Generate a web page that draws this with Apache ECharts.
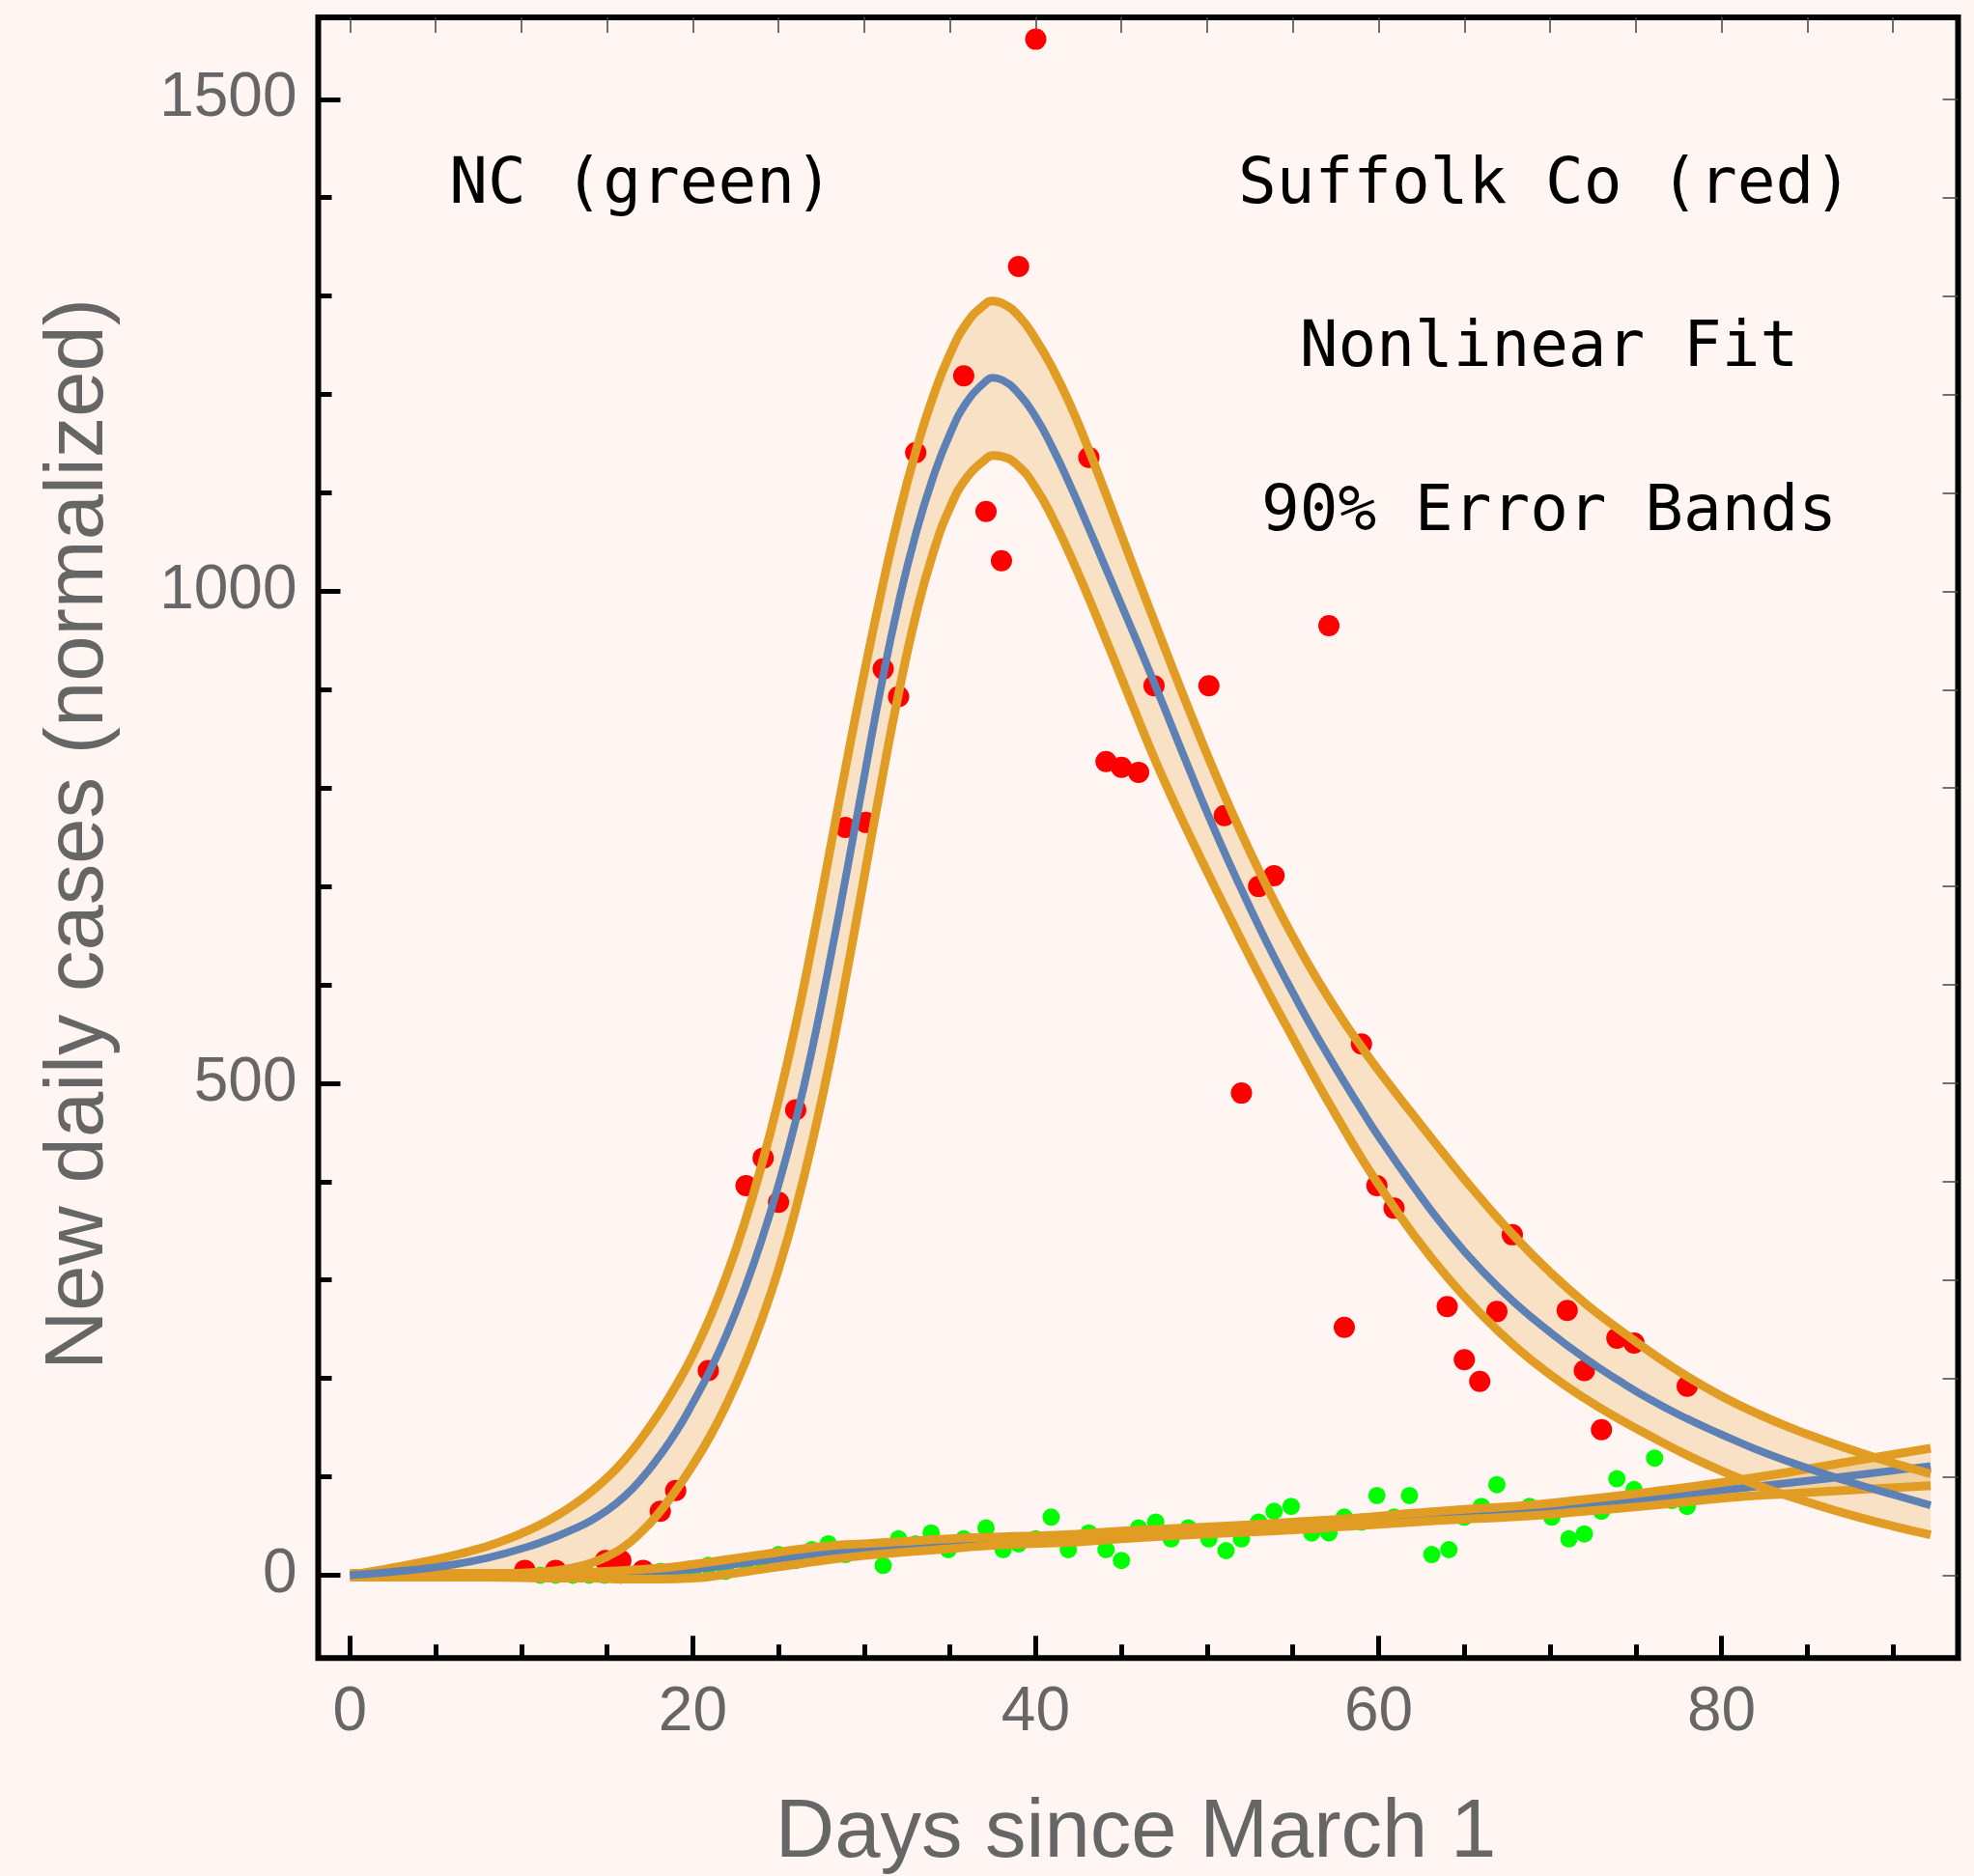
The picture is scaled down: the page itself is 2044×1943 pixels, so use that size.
<!DOCTYPE html>
<html>
<head>
<meta charset="utf-8">
<script src="https://cdn.jsdelivr.net/npm/echarts@6/dist/echarts.min.js"></script>
<style>
html,body{margin:0;padding:0;background:#FFF5F2;}
#chart{width:2044px;height:1943px;}
</style>
</head>
<body>
<div id="chart"></div>
<script>
// ---------------- data ----------------
// Suffolk Co (red) observed points
const redX = [10.2, 12.0, 14.9, 15.8, 17.1, 18.1, 19.0, 20.9, 23.1, 24.1, 25.0, 26.0, 28.9, 30.1, 31.1, 32.0, 33.0, 35.8, 37.1, 38.0, 39.0, 40.0, 43.1, 44.1, 45.0, 46.0, 46.9, 50.1, 51.0, 52.0, 53.0, 53.9, 57.1, 58.0, 59.0, 59.9, 60.9, 64.0, 65.0, 65.9, 66.9, 67.8, 71.0, 72.0, 73.0, 73.9, 74.9, 78.0];
const redY = [5, 5, 15, 15, 5, 65, 86, 208, 396, 424, 379, 473, 760, 765, 921, 893, 1141, 1219, 1081, 1031, 1330, 1561, 1136, 827, 821, 816, 904, 904, 772, 490, 700, 711, 965, 252, 540, 396, 373, 273, 219, 197, 268, 346, 269, 208, 148, 241, 236, 192];

// NC (green) observed points
const greenX = [11.1, 12.0, 13.0, 13.95, 14.85, 15.8, 17.0, 18.1, 19.0, 20.0, 20.9, 21.9, 23.1, 24.1, 25.0, 26.0, 26.95, 27.9, 28.9, 30.1, 31.1, 32.0, 33.0, 33.9, 34.9, 35.8, 37.1, 38.1, 39.0, 40.0, 40.9, 41.9, 43.1, 44.1, 45.0, 46.0, 47.0, 47.9, 48.9, 50.1, 51.1, 52.0, 53.0, 53.9, 54.9, 56.1, 57.1, 58.0, 59.0, 59.9, 60.9, 61.8, 63.1, 64.1, 65.0, 66.0, 66.9, 67.9, 68.8, 70.1, 71.1, 72.0, 73.0, 73.9, 74.9, 76.1, 77.1, 78.0];
const greenY = [0, 0, 0, 0, 0, 0, 2, 4, 4, 4, 10, 4, 14, 14, 21, 15, 26, 32, 21, 26, 10, 37, 32, 43, 26, 37, 48, 26, 32, 37, 59, 26, 43, 26, 15, 48, 54, 37, 48, 37, 25, 37, 54, 65, 70, 43, 43, 59, 54, 81, 59, 81, 21, 26, 59, 70, 92, 65, 70, 59, 37, 42, 65, 98, 87, 119, 76, 70];

// Nonlinear fit for Suffolk Co with 90% error band
const fitX = [0, 1, 2, 3, 4, 5, 6, 7, 8, 9, 10, 11, 12, 13, 14, 15, 16, 17, 18, 19, 20, 21, 22, 23, 24, 25, 26, 27, 28, 29, 30, 31, 32, 33, 34, 35, 36, 37, 37.5, 38, 39, 40, 41, 42, 43, 44, 45, 46, 47, 48, 49, 50, 51, 52, 53, 54, 55, 56, 57, 58, 59, 60, 62, 64, 66, 68, 70, 72, 74, 76, 78, 80, 82, 84, 86, 88, 90, 92.2];
const fitRMid = [0, 1.3, 2.7, 4.3, 6, 8.2, 10.8, 13.8, 17.5, 22, 27, 32.5, 39, 46.5, 55, 66, 80, 98, 120, 145, 175, 208, 246, 290, 340, 397, 462, 538, 625, 717, 812, 905, 988, 1058, 1115, 1160, 1193, 1212, 1217, 1215, 1201, 1177, 1145, 1108, 1068, 1027, 986, 945, 903, 860, 817, 775, 735, 697, 660, 625, 592, 560, 530, 501, 473, 446, 396, 350, 310, 276, 247, 221, 198, 177, 159, 143, 128, 115, 103, 92, 82, 71];
const fitRUp = [0, 3, 6, 9.2, 12.5, 16, 20, 24.5, 29.5, 35.5, 42.5, 50.5, 60, 71, 84, 99, 117, 139, 164, 192, 224, 262, 306, 357, 416, 483, 559, 645, 737, 829, 917, 1000, 1076, 1142, 1197, 1241, 1273, 1291, 1295, 1293, 1280, 1256, 1226, 1190, 1148, 1103, 1057, 1011, 966, 921, 877, 834, 793, 754, 717, 682, 649, 618, 589, 562, 537, 513, 468, 424, 382, 343, 308, 277, 250, 225, 202, 182, 165, 150, 137, 125, 114, 103];
const fitRLow = [0, 0, 0, 0, 0, 0, 0.3, 0.6, 1, 1.5, 2.2, 3.2, 4.8, 7.5, 12, 19, 29, 44, 63, 86, 112, 141, 175, 214, 259, 311, 372, 443, 523, 614, 710, 806, 896, 975, 1038, 1085, 1116, 1133, 1138, 1137, 1127, 1105, 1074, 1037, 997, 955, 912, 869, 827, 788, 751, 715, 680, 645, 611, 578, 546, 514, 483, 453, 424, 397, 347, 303, 265, 232, 204, 180, 159, 140, 122, 106, 92, 80, 69, 59, 50, 41];

// Nonlinear fit for NC with 90% error band
const fitGX   = [0, 4, 8, 12, 14, 16, 18, 20, 22, 24, 26, 28, 30, 32, 35, 38, 41.5, 45, 50, 55, 58.5, 62, 65, 68.6, 72, 76, 79.9, 84, 88, 92.2];
const fitGMid = [0, 0, 0, 0, 1, 1, 3, 6, 10, 15, 19, 24, 27, 29, 32, 35, 37, 41, 46, 50, 54, 58, 61, 65, 71, 78, 86, 94, 102, 111];
const fitGUp  = [2, 2, 2, 2, 3, 5, 7, 11, 16, 21, 26, 30, 32, 34, 37, 39, 41, 45, 49, 54, 58, 63, 67, 71, 77, 85, 94, 105, 117, 129];
const fitGLow = [-2, -2, -2, -3, -3, -4, -4, -3, 1, 6, 11, 16, 20, 23, 27, 31, 33, 37, 42, 46, 50, 54, 57, 60, 65, 71, 78, 83, 87, 91];

// axis ticks / labels
const xMajor = [0, 20, 40, 60, 80];
const xMinor = [5, 10, 15, 25, 30, 35, 45, 50, 55, 65, 70, 75, 85, 90];
const xTop   = [0, 5, 10, 15, 20, 25, 30, 35, 40, 45, 50, 55, 60, 65, 70, 75, 80, 85, 90];
const yMajor = [0, 500, 1000, 1500];
const yMinor = [100, 200, 300, 400, 600, 700, 800, 900, 1100, 1200, 1300, 1400];
const yRight = [0, 100, 200, 300, 400, 500, 600, 700, 800, 900, 1000, 1100, 1200, 1300, 1400, 1500];

const xTitle = 'Days since March 1';
const yTitle = 'New daily cases (normalized)';
const notes = ['NC (green)', 'Suffolk Co (red)', 'Nonlinear Fit', '90% Error Bands'];

// ---------------- chart ----------------
const X_MIN = -1.853, X_MAX = 93.80;
const Y_MIN = -84.2,  Y_MAX = 1583.2;
const ORANGE = '#E19C24', BLUE = '#5E81B5', BAND = 'rgba(225,156,36,0.22)';
const LABEL_FONT = '"Liberation Sans", Arial, Helvetica, sans-serif';
const MONO = '"DejaVu Sans Mono", monospace';

const zip = (xs, ys) => xs.map((x, i) => [x, ys[i]]);

function bandSeries(xs, up, low) {
  return {
    type: 'custom', silent: true, clip: true, data: [[0, 0]],
    renderItem: function (params, api) {
      const pts = [];
      for (let i = 0; i < xs.length; i++) pts.push(api.coord([xs[i], up[i]]));
      for (let i = xs.length - 1; i >= 0; i--) pts.push(api.coord([xs[i], low[i]]));
      return { type: 'polygon', shape: { points: pts }, style: { fill: BAND, stroke: null } };
    }
  };
}
function lineSeries(xs, ys, color, width) {
  return {
    type: 'line', data: zip(xs, ys), smooth: 0.5, symbol: 'none', showSymbol: false,
    silent: true, lineStyle: { color: color, width: width, cap: 'butt', join: 'round' }
  };
}
function scatterSeries(xs, ys, color, size) {
  return {
    type: 'scatter', data: zip(xs, ys), symbol: 'circle', symbolSize: size,
    silent: true, itemStyle: { color: color, opacity: 1 }
  };
}

const plainLabel = v => String(v);

function xAx(pos, ticks, len, width, color, labels) {
  return {
    type: 'value', min: X_MIN, max: X_MAX, position: pos,
    axisLine: { show: false, onZero: false }, splitLine: { show: false },
    axisTick: { show: true, inside: true, length: len, customValues: ticks, lineStyle: { color: color, width: width } },
    axisLabel: labels ? { show: true, customValues: labels, formatter: plainLabel, fontSize: 64, color: '#666666', fontFamily: LABEL_FONT, margin: 25 } : { show: false }
  };
}
function yAx(pos, ticks, len, width, color, labels) {
  return {
    type: 'value', min: Y_MIN, max: Y_MAX, position: pos,
    axisLine: { show: false, onZero: false }, splitLine: { show: false },
    axisTick: { show: true, inside: true, length: len, customValues: ticks, lineStyle: { color: color, width: width } },
    axisLabel: labels ? { show: true, customValues: labels, formatter: plainLabel, fontSize: 64, color: '#666666', fontFamily: LABEL_FONT, margin: 22 } : { show: false }
  };
}

const chart = echarts.init(document.getElementById('chart'), null, { renderer: 'canvas' });
chart.setOption({
  backgroundColor: '#FFF5F2',
  animation: false,
  grid: { left: 329.5, right: 16.5, top: 18, bottom: 225.7, show: true, borderColor: '#000', borderWidth: 6, backgroundColor: 'transparent' },
  xAxis: [
    xAx('bottom', xMajor, 23, 5, '#000', xMajor),
    xAx('bottom', xMinor, 14, 5, '#000', null),
    xAx('top', xTop, 16, 1.5, '#444', null)
  ],
  yAxis: [
    yAx('left', yMajor, 23, 5, '#000', yMajor),
    yAx('left', yMinor, 14, 5, '#000', null),
    yAx('right', yRight, 16, 1.5, '#444', null)
  ],
  series: [
    bandSeries(fitGX, fitGUp, fitGLow),
    lineSeries(fitGX, fitGMid, BLUE, 8),
    lineSeries(fitGX, fitGUp, ORANGE, 9),
    lineSeries(fitGX, fitGLow, ORANGE, 9),
    scatterSeries(greenX, greenY, '#00FF00', 18),
    bandSeries(fitX, fitRUp, fitRLow),
    lineSeries(fitX, fitRUp, ORANGE, 9),
    lineSeries(fitX, fitRLow, ORANGE, 9),
    lineSeries(fitX, fitRMid, BLUE, 8),
    scatterSeries(redX, redY, '#FF0000', 22)
  ],
  graphic: [
    { type: 'text', x: 1176, y: 1900, silent: true, style: { text: xTitle, fill: '#666666', font: '85px ' + LABEL_FONT, align: 'center', verticalAlign: 'middle' } },
    { type: 'text', x: 83, y: 864, rotation: Math.PI / 2, silent: true, style: { text: yTitle, fill: '#666666', font: '85px ' + LABEL_FONT, align: 'center', verticalAlign: 'middle' } },
    { type: 'text', x: 664, y: 193, silent: true, style: { text: notes[0], fill: '#000', font: '66px ' + MONO, align: 'center', verticalAlign: 'middle' } },
    { type: 'text', x: 1600, y: 193, silent: true, style: { text: notes[1], fill: '#000', font: '66px ' + MONO, align: 'center', verticalAlign: 'middle' } },
    { type: 'text', x: 1604, y: 362, silent: true, style: { text: notes[2], fill: '#000', font: '66px ' + MONO, align: 'center', verticalAlign: 'middle' } },
    { type: 'text', x: 1604, y: 532, silent: true, style: { text: notes[3], fill: '#000', font: '66px ' + MONO, align: 'center', verticalAlign: 'middle' } }
  ]
});
</script>
</body>
</html>
